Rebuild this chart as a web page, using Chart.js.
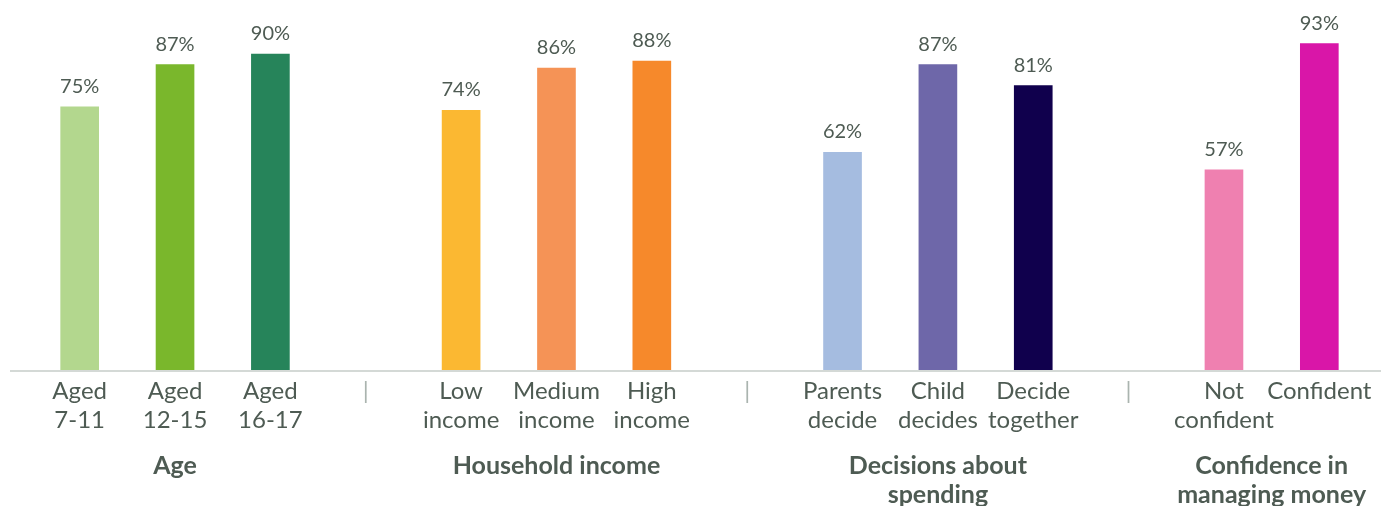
<!DOCTYPE html>
<html>
<head>
<meta charset="utf-8">
<script src="https://cdn.jsdelivr.net/npm/chart.js@4"></script>
<style>
  html, body { margin: 0; padding: 0; background: #ffffff; }
  #wrap { width: 1381px; height: 506px; position: relative; }
</style>
</head>
<body>
<div id="wrap"><canvas id="c"></canvas></div>
<script>
// ---- data ----
const categories = [
  ['Aged', '7-11'], ['Aged', '12-15'], ['Aged', '16-17'], '|',
  ['Low', 'income'], ['Medium', 'income'], ['High', 'income'], '|',
  ['Parents', 'decide'], ['Child', 'decides'], ['Decide', 'together'], '|',
  ['Not', 'confident'], 'Confident'
];
const values = [75, 87, 90, null, 74, 86, 88, null, 62, 87, 81, null, 57, 93];
const barColors = [
  '#b3d78e', '#7ab72c', '#26845a', 'rgba(0,0,0,0)',
  '#fbb832', '#f59356', '#f6892b', 'rgba(0,0,0,0)',
  '#a5bce0', '#6e67a9', '#10004d', 'rgba(0,0,0,0)',
  '#ef80b0', '#d916a8'
];
const groupLabels = [
  ['Age'],
  ['Household income'],
  ['Decisions about', 'spending'],
  ['Confidence in', 'managing money']
];
const groupMembers = [[1], [5], [9], [12, 13]];

const TEXT = '#4e5b53';
const SEP = '#aab4af';
const FONT = 'Lato';

const valueLabels = {
  id: 'valueLabels',
  afterDatasetsDraw(chart) {
    const ctx = chart.ctx;
    const meta = chart.getDatasetMeta(0);
    ctx.save();
    ctx.font = '20px ' + FONT;
    ctx.fillStyle = TEXT;
    ctx.textAlign = 'center';
    ctx.textBaseline = 'alphabetic';
    meta.data.forEach((bar, i) => {
      const v = values[i];
      if (v === null || v === undefined) return;
      ctx.fillText(v + '%', bar.x, bar.y - 14);
    });
    ctx.restore();
  }
};

const axisAndGroups = {
  id: 'axisAndGroups',
  beforeDatasetsDraw(chart) {
    const ctx = chart.ctx;
    const y = chart.chartArea.bottom;
    ctx.save();
    ctx.strokeStyle = '#d4d9d6';
    ctx.lineWidth = 2;
    ctx.beginPath();
    ctx.moveTo(10, y + 1);
    ctx.lineTo(chart.width, y + 1);
    ctx.stroke();
    ctx.restore();
  },
  afterDraw(chart) {
    const ctx = chart.ctx;
    const xs = chart.scales.x;
    const base = chart.chartArea.bottom;
    ctx.save();
    ctx.font = 'bold 25px ' + FONT;
    ctx.fillStyle = TEXT;
    ctx.textAlign = 'center';
    ctx.textBaseline = 'alphabetic';
    groupLabels.forEach((lines, g) => {
      const mem = groupMembers[g];
      let cx = 0;
      mem.forEach(i => { cx += xs.getPixelForValue(i); });
      cx /= mem.length;
      lines.forEach((ln, k) => {
        ctx.fillText(ln, cx, base + 104 + k * 29);
      });
    });
    ctx.restore();
  }
};

new Chart(document.getElementById('c'), {
  type: 'bar',
  data: {
    labels: categories,
    datasets: [{
      data: values,
      backgroundColor: barColors,
      barThickness: 38,
      borderWidth: 0
    }]
  },
  options: {
    responsive: true,
    maintainAspectRatio: false,
    animation: false,
    layout: { padding: { top: 19, left: 32, right: 14, bottom: 0 } },
    plugins: { legend: { display: false }, tooltip: { enabled: false } },
    scales: {
      x: {
        grid: { display: false, drawTicks: false },
        border: { display: false },
        ticks: {
          autoSkip: false,
          maxRotation: 0,
          padding: 7,
          font: { family: FONT, size: 24, lineHeight: 1.2 },
          color: (c) => (categories[c.index] === '|' ? SEP : TEXT)
        },
        afterFit(scale) { scale.height = 136; }
      },
      y: {
        display: false,
        min: 0,
        max: 100
      }
    }
  },
  plugins: [valueLabels, axisAndGroups]
});
</script>
</body>
</html>
